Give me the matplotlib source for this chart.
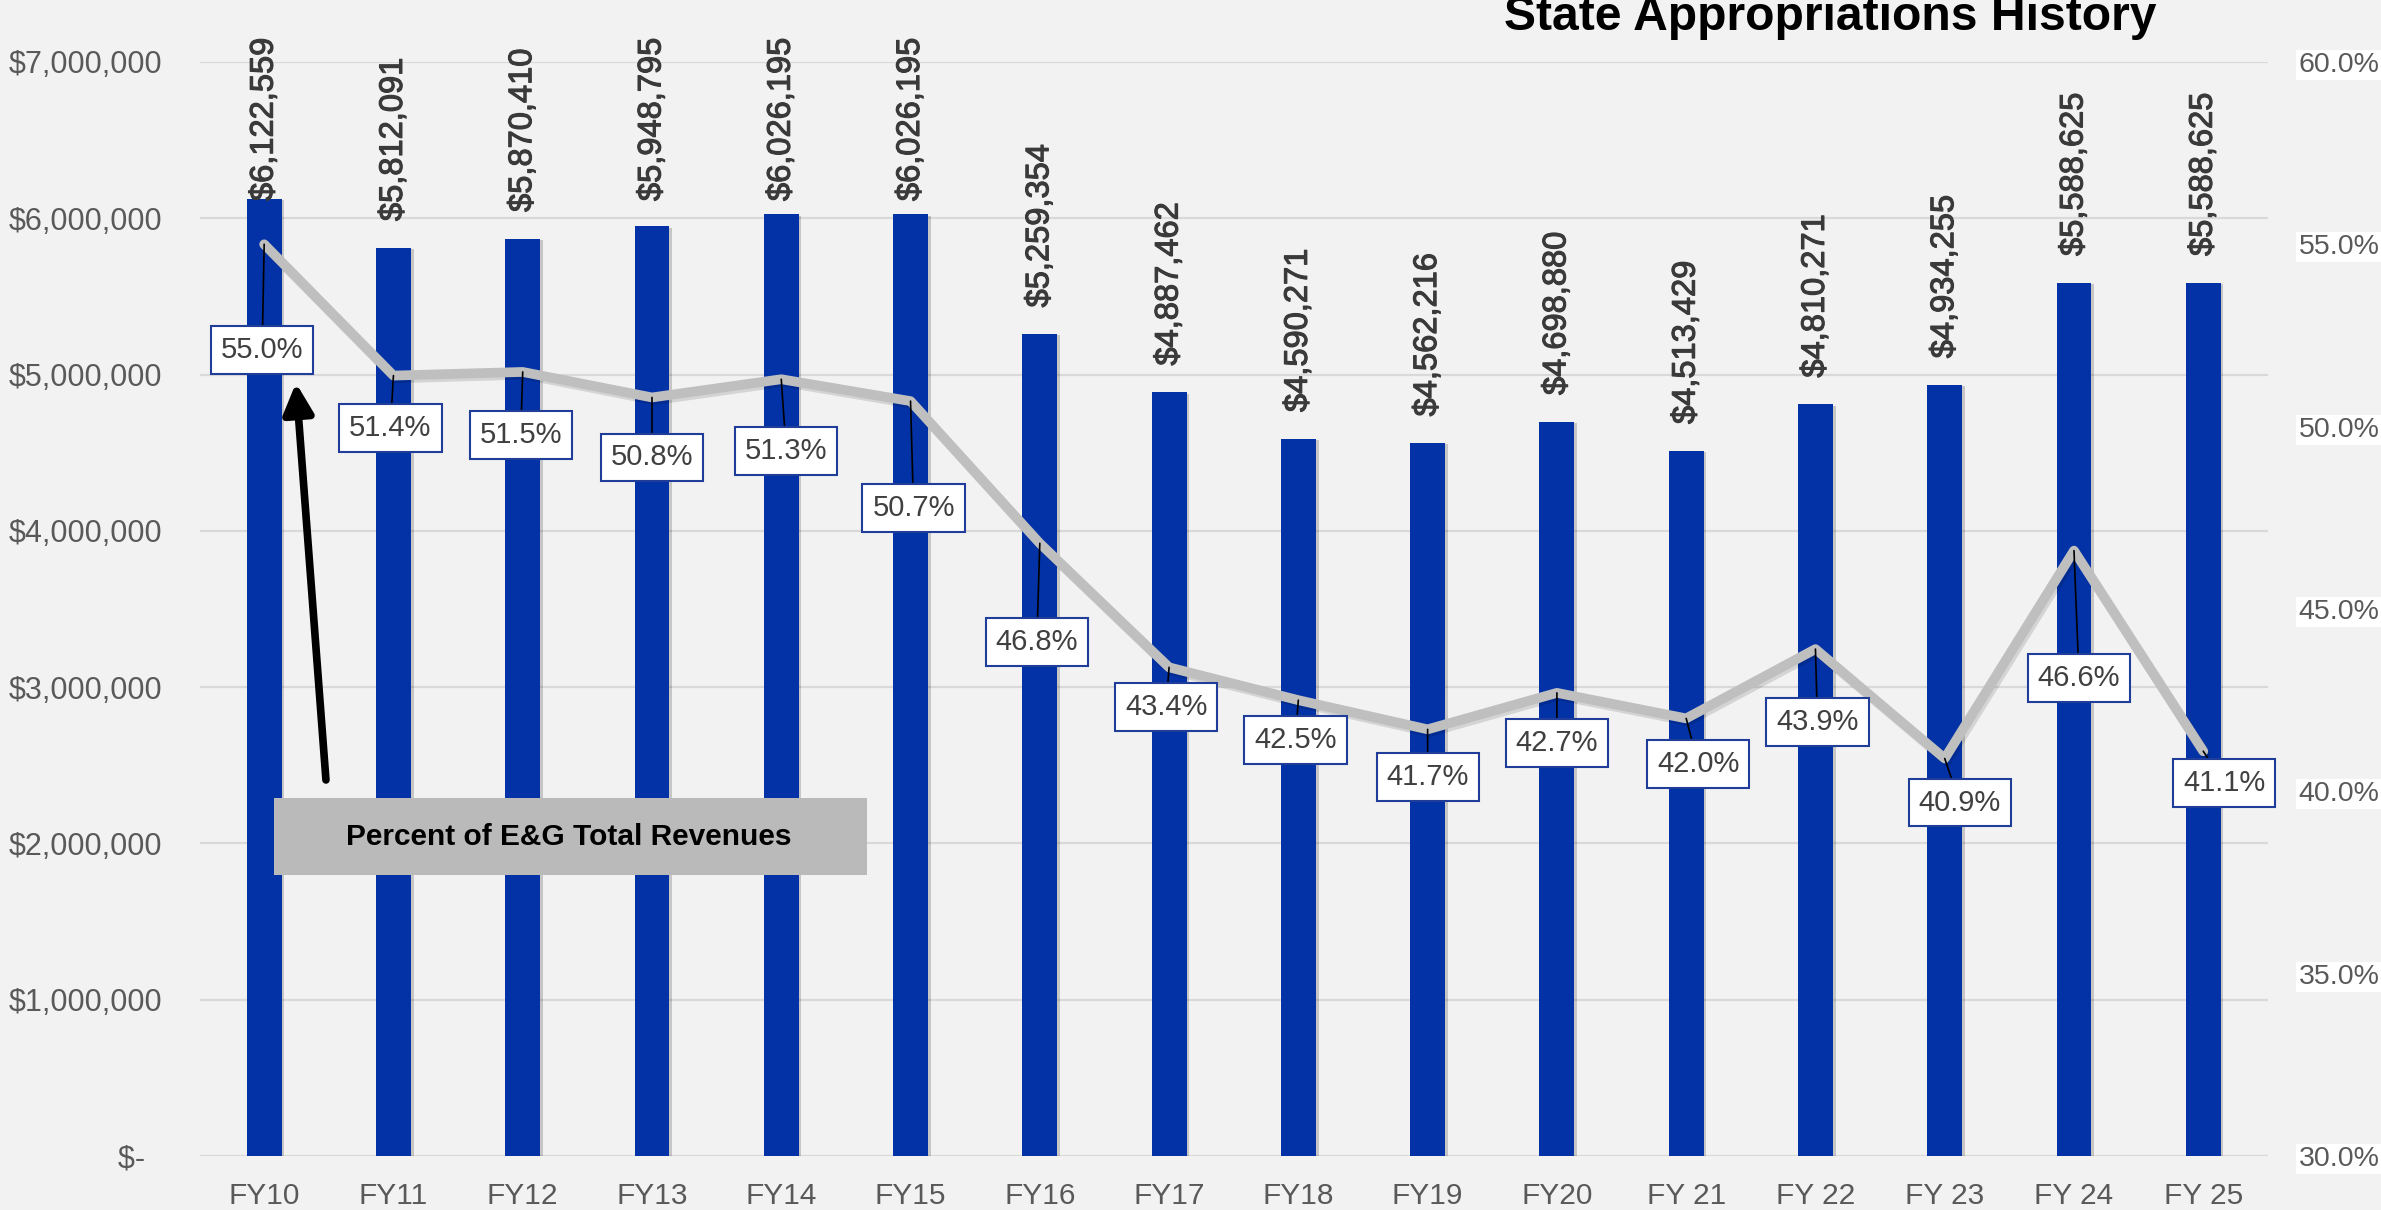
import matplotlib
matplotlib.use("Agg")
import matplotlib.pyplot as plt
import matplotlib.patheffects as pe
from matplotlib.patches import Rectangle

plt.rcParams['font.family'] = ['Liberation Sans', 'DejaVu Sans']

# data
years = ['FY10', 'FY11', 'FY12', 'FY13', 'FY14', 'FY15', 'FY16', 'FY17',
         'FY18', 'FY19', 'FY20', 'FY 21', 'FY 22', 'FY 23', 'FY 24', 'FY 25']
approp = [6122559, 5812091, 5870410, 5948795, 6026195, 6026195, 5259354, 4887462,
          4590271, 4562216, 4698880, 4513429, 4810271, 4934255, 5588625, 5588625]
pct = [55.0, 51.4, 51.5, 50.8, 51.3, 50.7, 46.8, 43.4,
       42.5, 41.7, 42.7, 42.0, 43.9, 40.9, 46.6, 41.1]

left_ticks = [0, 1e6, 2e6, 3e6, 4e6, 5e6, 6e6, 7e6]
left_labels = ['$-  ', '$1,000,000', '$2,000,000', '$3,000,000', '$4,000,000',
               '$5,000,000', '$6,000,000', '$7,000,000']
right_ticks = [30, 35, 40, 45, 50, 55, 60]

# where the percent boxes sit under each point (pixels), as laid out in the original
label_drop = [106, 52, 63, 60, 72, 107, 99, 40, 40, 48, 50, 46, 73, 44, 127, 32]
label_dx = [-2, -3, -2, 0, 5, 3, -3, -3, -3, 0, 0, 12, 2, 15, 5, 21]

BG = '#F2F2F2'
BLUE = '#0232A6'
GRAY_TXT = '#595959'

fig = plt.figure(figsize=(23.81, 12.10), dpi=100, facecolor=BG)
ax = fig.add_axes([0.0838, 0.0446, 0.8687, 0.9042])
ax.set_facecolor(BG)
x = list(range(len(years)))

bars = ax.bar(x, approp, width=0.27, color=BLUE, zorder=2)
for b in bars:
    b.set_path_effects([pe.SimplePatchShadow(offset=(2, -1), shadow_rgbFace='black', alpha=0.18), pe.Normal()])

ax.set_xlim(-0.5, len(years) - 0.5)
ax.set_ylim(0, 7e6)
ax.set_yticks(left_ticks)
ax.set_yticklabels(left_labels)
ax.set_xticks(x)
ax.set_xticklabels(years)
ax.tick_params(axis='y', length=0, pad=27, labelsize=22, labelcolor=GRAY_TXT)
ax.tick_params(axis='x', length=0, pad=19, labelsize=21.5, labelcolor=GRAY_TXT)
ax.grid(axis='y', color='#D9D9D9', linewidth=1.6, zorder=0)
ax.set_axisbelow(True)
for s in ax.spines.values():
    s.set_visible(False)

# value labels above the bars (pushed down where they would leave the chart)
for i, v in enumerate(approp):
    ax.text(i, min(v + 0.17e6, 6.11e6), f"${v:,}", rotation=90, ha='center', va='bottom',
            fontsize=23.5, color='#3A3A3A', zorder=3,
            path_effects=[pe.withStroke(linewidth=0.8, foreground='#3A3A3A')])

ax2 = ax.twinx()
ax2.set_ylim(30, 60)
ax2.set_yticks(right_ticks)
ax2.set_yticklabels([f"{t:.1f}%" for t in right_ticks])
ax2.tick_params(axis='y', length=0, pad=22, labelsize=20.5, labelcolor=GRAY_TXT)
for lab in ax2.get_yticklabels():
    lab.set_bbox(dict(facecolor='white', edgecolor='none', pad=1.5))
ax2.patch.set_visible(False)
for s in ax2.spines.values():
    s.set_visible(False)

ax2.plot(x, pct, color='#BFBFBF', linewidth=7, solid_capstyle='round', zorder=3,
         path_effects=[pe.SimpleLineShadow(offset=(1.5, -2), shadow_color='black', alpha=0.12),
                       pe.Normal()])

for i, p in enumerate(pct):
    ax2.annotate(f"{p:.1f}%", xy=(i, p), xytext=(label_dx[i], -label_drop[i]),
                 textcoords='offset pixels', ha='center', va='center',
                 fontsize=21, color='#404040', zorder=5,
                 bbox=dict(boxstyle='square,pad=0.34', facecolor='white',
                           edgecolor='#1F3D99', linewidth=1.5),
                 arrowprops=dict(arrowstyle='-', color='black', lw=1.2,
                                 shrinkA=0, shrinkB=0))

fig.text(0.7686, 0.9752, 'State Appropriations History', ha='center', va='baseline',
         fontsize=34.6, fontweight='bold', color='black')

# callout box and arrow for the percent line
fig.add_artist(Rectangle((0.1151, 0.2769), 0.2490, 0.0636, transform=fig.transFigure,
                         facecolor='#BABABA', edgecolor='none', zorder=6))
fig.text(0.239, 0.3083, 'Percent of E&G Total Revenues', ha='center', va='center',
         fontsize=21.5, fontweight='bold', color='black', zorder=7)
ax.annotate('', xy=(0.1243, 0.6835), xycoords='figure fraction',
            xytext=(0.1369, 0.3554), textcoords='figure fraction',
            arrowprops=dict(arrowstyle='-|>,head_length=0.9,head_width=0.45',
                            mutation_scale=20, color='black', lw=5.5,
                            capstyle='round', shrinkA=0, shrinkB=0),
            zorder=7)

fig.savefig('out.png', dpi=100, facecolor=BG)
